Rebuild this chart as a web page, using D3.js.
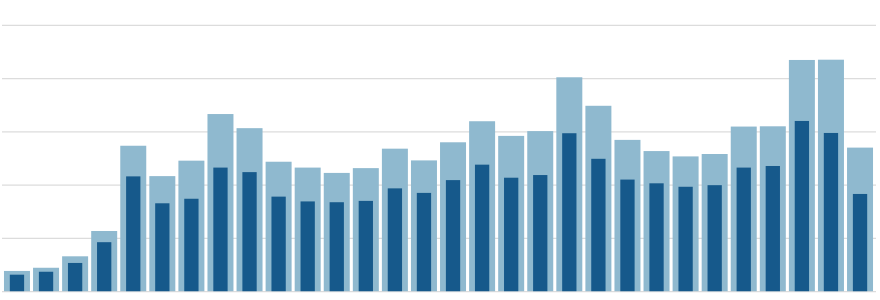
<!DOCTYPE html>
<html><head><meta charset="utf-8">
<script src="https://cdn.jsdelivr.net/npm/d3@7"></script>
<style>body{margin:0;background:#fff}svg{display:block}</style>
</head><body>
<svg id="c" width="880" height="300"></svg>
<script>
const categories = d3.range(1, 31).map(String);
const totalValues = [7.6, 8.8, 13.1, 22.6, 54.6, 43.2, 49.0, 66.5, 61.2, 48.6, 46.4, 44.4, 46.2, 53.5, 49.1, 55.9, 63.8, 58.3, 60.1, 80.3, 69.6, 56.8, 52.6, 50.6, 51.5, 61.8, 61.9, 86.8, 86.9, 53.9];
const partValues = [6.2, 7.3, 10.6, 18.4, 43.1, 33.0, 34.7, 46.4, 44.7, 35.5, 33.7, 33.4, 33.9, 38.6, 36.9, 41.7, 47.5, 42.6, 43.6, 59.3, 49.7, 41.9, 40.5, 39.2, 39.8, 46.4, 47.0, 63.9, 59.4, 36.5];
const gridTicks = [0, 20, 40, 60, 80, 100];

const svg = d3.select("#c");
const x = d3.scaleBand().domain(categories).range([2, 875]).paddingInner(0.106).paddingOuter(0.068);
const y = d3.scaleLinear().domain([0, 100]).range([291.2, 24.8]);

svg.append("g")
  .attr("transform", "translate(876,0)")
  .call(d3.axisLeft(y).tickValues(gridTicks).tickSize(-874).tickFormat(""))
  .call(g => g.select(".domain").remove())
  .call(g => g.selectAll("line").attr("x1", 0).attr("x2", -874).attr("stroke", "#dcdcdc").attr("stroke-width", 1.3));

svg.append("g").selectAll("rect").data(totalValues).join("rect")
  .attr("x", (d, i) => x(categories[i]))
  .attr("width", x.bandwidth())
  .attr("y", d => y(d))
  .attr("height", d => y(0) - y(d))
  .attr("fill", "#8fb9cf");

const inner = x.bandwidth() * 0.55;
svg.append("g").selectAll("rect").data(partValues).join("rect")
  .attr("x", (d, i) => x(categories[i]) + (x.bandwidth() - inner) / 2)
  .attr("width", inner)
  .attr("y", d => y(d))
  .attr("height", d => y(0) - y(d))
  .attr("fill", "#16598b");
</script>
</body></html>
